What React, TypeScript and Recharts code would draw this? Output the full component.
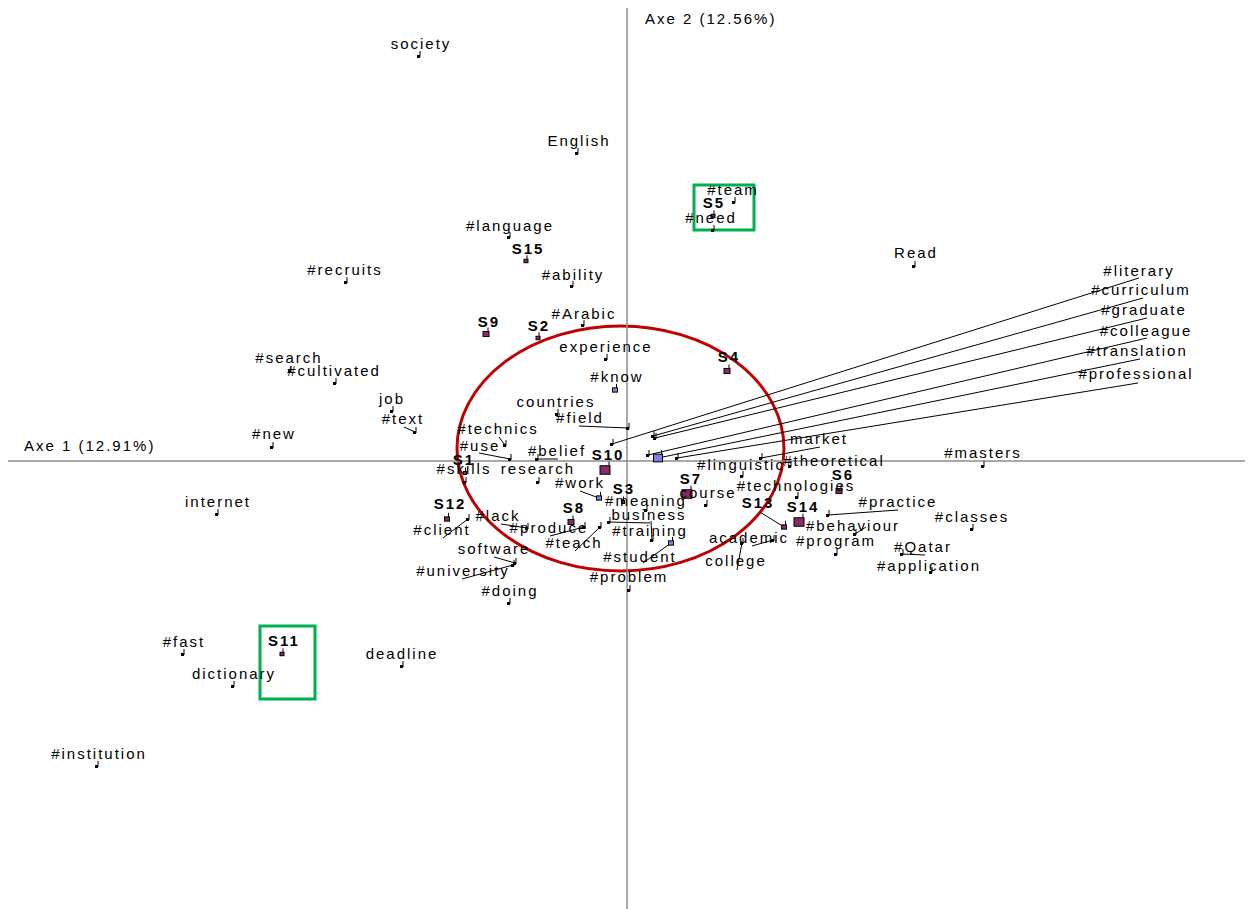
import { ScatterChart, Scatter, XAxis, YAxis, ReferenceLine, ReferenceArea } from "recharts";

// factorial map, axis 1 / axis 2 coordinates (x, y) and label anchor (lx, ly)
const termPoints = [
  { name: "society", x: -2.08, y: 4.05, lx: -2.07, ly: 4.17 },
  { name: "English", x: -0.5, y: 3.08, lx: -0.49, ly: 3.2 },
  { name: "#language", x: -1.18, y: 2.24, lx: -1.18, ly: 2.35 },
  { name: "#recruits", x: -2.81, y: 1.79, lx: -2.83, ly: 1.91 },
  { name: "#ability", x: -0.55, y: 1.75, lx: -0.55, ly: 1.86 },
  { name: "#Arabic", x: -0.44, y: 1.36, lx: -0.44, ly: 1.47 },
  { name: "#team", x: 1.07, y: 2.59, lx: 1.05, ly: 2.71 },
  { name: "#need", x: 0.86, y: 2.31, lx: 0.83, ly: 2.43 },
  { name: "Read", x: 2.87, y: 1.95, lx: 2.88, ly: 2.08 },
  { name: "#search", x: -3.37, y: 0.9, lx: -3.39, ly: 1.03 },
  { name: "#cultivated", x: -2.92, y: 0.78, lx: -2.94, ly: 0.9 },
  { name: "job", x: -2.35, y: 0.5, lx: -2.36, ly: 0.62 },
  { name: "#text", x: -2.12, y: 0.29, lx: -2.25, ly: 0.42 },
  { name: "#new", x: -3.55, y: 0.14, lx: -3.54, ly: 0.27 },
  { name: "experience", x: -0.21, y: 1.02, lx: -0.22, ly: 1.14 },
  { name: "countries", x: -0.7, y: 0.47, lx: -0.72, ly: 0.59 },
  { name: "#field", x: 0.01, y: 0.33, lx: -0.48, ly: 0.43 },
  { name: "#technics", x: -1.22, y: 0.16, lx: -1.3, ly: 0.32 },
  { name: "#use", x: -1.17, y: 0.02, lx: -1.48, ly: 0.15 },
  { name: "#belief", x: -0.9, y: 0.02, lx: -0.71, ly: 0.1 },
  { name: "#skills", x: -1.62, y: -0.21, lx: -1.64, ly: -0.08 },
  { name: "research", x: -0.89, y: -0.21, lx: -0.9, ly: -0.08 },
  { name: "#meaning", x: 0.19, y: -0.49, lx: 0.18, ly: -0.4 },
  { name: "business", x: -0.18, y: -0.61, lx: 0.21, ly: -0.54 },
  { name: "#training", x: 0.25, y: -0.79, lx: 0.22, ly: -0.7 },
  { name: "#problem", x: 0.02, y: -1.29, lx: 0.01, ly: -1.16 },
  { name: "#teach", x: -0.27, y: -0.66, lx: -0.54, ly: -0.82 },
  { name: "#produce", x: -0.43, y: -0.66, lx: -0.79, ly: -0.67 },
  { name: "#lack", x: -1.0, y: -0.67, lx: -1.3, ly: -0.55 },
  { name: "#client", x: -1.59, y: -0.58, lx: -1.86, ly: -0.69 },
  { name: "software", x: -1.12, y: -1.02, lx: -1.34, ly: -0.88 },
  { name: "#university", x: -1.14, y: -1.04, lx: -1.65, ly: -1.1 },
  { name: "#doing", x: -1.18, y: -1.42, lx: -1.18, ly: -1.3 },
  { name: "course", x: 0.79, y: -0.44, lx: 0.8, ly: -0.32 },
  { name: "market", x: 1.34, y: 0.03, lx: 1.91, ly: 0.22 },
  { name: "#theoretical", x: 1.63, y: -0.05, lx: 2.06, ly: 0.0 },
  { name: "#linguistic", x: 1.15, y: -0.15, lx: 1.13, ly: -0.04 },
  { name: "#technologies", x: 1.7, y: -0.36, lx: 1.68, ly: -0.25 },
  { name: "#practice", x: 2.01, y: -0.54, lx: 2.7, ly: -0.41 },
  { name: "#behaviour", x: 2.28, y: -0.73, lx: 2.25, ly: -0.65 },
  { name: "#program", x: 2.09, y: -0.93, lx: 2.08, ly: -0.8 },
  { name: "academic", x: 1.46, y: -0.79, lx: 1.21, ly: -0.77 },
  { name: "college", x: 1.15, y: -0.82, lx: 1.08, ly: -1.0 },
  { name: "#Qatar", x: 2.75, y: -0.93, lx: 2.95, ly: -0.86 },
  { name: "#application", x: 3.04, y: -1.11, lx: 3.01, ly: -1.05 },
  { name: "#classes", x: 3.45, y: -0.68, lx: 3.44, ly: -0.56 },
  { name: "#masters", x: 3.56, y: -0.05, lx: 3.55, ly: 0.08 },
  { name: "internet", x: -4.1, y: -0.53, lx: -4.1, ly: -0.41 },
  { name: "#fast", x: -4.44, y: -1.93, lx: -4.44, ly: -1.81 },
  { name: "dictionary", x: -3.94, y: -2.25, lx: -3.94, ly: -2.13 },
  { name: "deadline", x: -2.25, y: -2.05, lx: -2.26, ly: -1.93 },
  { name: "#institution", x: -5.3, y: -3.05, lx: -5.29, ly: -2.93 },
  { name: "#literary", x: -0.15, y: 0.17, lx: 5.11, ly: 1.9 },
  { name: "#curriculum", x: 0.26, y: 0.25, lx: 5.13, ly: 1.71 },
  { name: "#graduate", x: 0.28, y: 0.23, lx: 5.16, ly: 1.51 },
  { name: "#colleague", x: 0.21, y: 0.06, lx: 5.18, ly: 1.3 },
  { name: "#professional", x: 0.5, y: 0.03, lx: 5.08, ly: 0.87 },
];

// words shown with a blue square, w = marker size
const bluePoints = [
  { name: "#know", x: -0.12, y: 0.71, lx: -0.11, ly: 0.84, w: 5 },
  { name: "#work", x: -0.28, y: -0.37, lx: -0.48, ly: -0.22, w: 5 },
  { name: "#student", x: 0.44, y: -0.82, lx: 0.12, ly: -0.96, w: 5 },
  { name: "#translation", x: 0.31, y: 0.03, lx: 5.09, ly: 1.1, w: 9 },
];

// subjects (supplementary individuals)
const subjectPoints = [
  { name: "S15", x: -1.01, y: 2.0, lx: -1.0, ly: 2.12, w: 4 },
  { name: "S5", x: 0.86, y: 2.45, lx: 0.86, ly: 2.58, w: 4 },
  { name: "S9", x: -1.41, y: 1.27, lx: -1.39, ly: 1.39, w: 6 },
  { name: "S2", x: -0.89, y: 1.23, lx: -0.89, ly: 1.35, w: 4 },
  { name: "S4", x: 1.0, y: 0.9, lx: 1.01, ly: 1.04, w: 6 },
  { name: "S10", x: -0.22, y: -0.09, lx: -0.2, ly: 0.06, w: 10 },
  { name: "S1", x: -1.62, y: -0.12, lx: -1.64, ly: 0.01, w: 3 },
  { name: "S3", x: -0.04, y: -0.41, lx: -0.04, ly: -0.28, w: 3 },
  { name: "S12", x: -1.8, y: -0.58, lx: -1.78, ly: -0.43, w: 5 },
  { name: "S8", x: -0.56, y: -0.61, lx: -0.54, ly: -0.47, w: 6 },
  { name: "S7", x: 0.6, y: -0.33, lx: 0.63, ly: -0.18, w: 10 },
  { name: "S6", x: 2.12, y: -0.3, lx: 2.15, ly: -0.14, w: 6 },
  { name: "S13", x: 1.57, y: -0.66, lx: 1.3, ly: -0.42, w: 5 },
  { name: "S14", x: 1.72, y: -0.61, lx: 1.75, ly: -0.46, w: 10 },
  { name: "S11", x: -3.45, y: -1.93, lx: -3.44, ly: -1.8, w: 4 },
];

// leader line end for labels pushed away from their point
const leaderEnds: [string, number, number][] = [
  ["#text", -2.23, 0.34],
  ["#field", -0.48, 0.35],
  ["#technics", -1.28, 0.24],
  ["#use", -1.48, 0.08],
  ["#belief", -0.69, 0.02],
  ["#work", -0.47, -0.3],
  ["business", 0.23, -0.62],
  ["#training", 0.24, -0.6],
  ["#student", 0.16, -1.02],
  ["#teach", -0.52, -0.9],
  ["#produce", -0.77, -0.75],
  ["#lack", -1.26, -0.63],
  ["#client", -1.84, -0.77],
  ["software", -1.33, -0.96],
  ["#university", -1.65, -1.18],
  ["market", 1.93, 0.14],
  ["#practice", 2.71, -0.49],
  ["#behaviour", 2.39, -0.66],
  ["academic", 1.25, -0.85],
  ["college", 1.1, -1.09],
  ["#Qatar", 2.98, -0.94],
  ["S13", 1.33, -0.51],
  ["#literary", 5.12, 1.83],
  ["#curriculum", 5.16, 1.63],
  ["#graduate", 5.2, 1.43],
  ["#colleague", 5.2, 1.23],
  ["#translation", 5.13, 1.02],
  ["#professional", 5.11, 0.78],
];

const axisTitles = [
  { name: "Axe 1 (12.91%)", lx: -6.03, ly: 0.15 },
  { name: "Axe 2 (12.56%)", lx: 0.18, ly: 4.42 },
];

// highlighted zones
const ellipseZone = { x1: -1.7, x2: 1.57, y1: -1.1, y2: 1.35 };
const boxZones = [
  { x1: 0.67, x2: 1.27, y1: 2.31, y2: 2.76 },
  { x1: -3.67, x2: -3.12, y1: -2.38, y2: -1.65 },
];

const FONT = "'Liberation Sans', Arial, Helvetica, sans-serif";
const SPACING = 2;
const PURPLE = "#8b2a66";
const BLUE = "#7d82e6";

const allPoints = [...termPoints, ...bluePoints, ...subjectPoints];
const pointByName: Record<string, { x: number; y: number }> = {};
allPoints.forEach((p) => (pointByName[p.name] = p));

const labelData = [
  ...termPoints.map((p) => ({ x: p.lx, y: p.ly, name: p.name, bold: false, start: false })),
  ...bluePoints.map((p) => ({ x: p.lx, y: p.ly, name: p.name, bold: false, start: false })),
  ...subjectPoints.map((p) => ({ x: p.lx, y: p.ly, name: p.name, bold: true, start: false })),
  ...axisTitles.map((p) => ({ x: p.lx, y: p.ly, name: p.name, bold: false, start: true })),
];

const TermMark = (props: any) => {
  const { cx, cy } = props;
  return (
    <g>
      <rect x={cx - 2} y={cy - 1} width={3} height={3} fill="#000" />
      <line x1={cx + 1} y1={cy + 1} x2={cx + 1} y2={cy - 5} stroke="#000" strokeWidth={1} />
    </g>
  );
};

const squareMark = (fill: string) => (props: any) => {
  const { cx, cy, payload } = props;
  const w = payload.w;
  const h = Math.max(3, w * 0.85);
  return (
    <g>
      <rect x={cx - w / 2} y={cy - h / 2} width={w} height={h} fill={fill} stroke="#000" strokeWidth={1} />
      <line x1={cx + w / 2 - 1} y1={cy - h / 2} x2={cx + w / 2 - 1} y2={cy - h / 2 - 4} stroke="#000" strokeWidth={1} />
    </g>
  );
};

const LabelText = (props: any) => {
  const { cx, cy, payload } = props;
  return (
    <text
      x={payload.start ? cx : cx + SPACING / 2}
      y={cy + 5}
      textAnchor={payload.start ? "start" : "middle"}
      fontFamily={FONT}
      fontSize={15}
      fontWeight={payload.bold ? 700 : 400}
      fill="#000"
      style={{ letterSpacing: SPACING }}
    >
      {payload.name}
    </text>
  );
};

export default function App() {
  return (
    <div style={{ width: 1245, height: 901, background: "#fff" }}>
      <ScatterChart width={1245} height={901} margin={{ top: 0, right: 0, bottom: 0, left: 0 }}>
        <XAxis type="number" dataKey="x" domain={[-6.19, 6.26]} allowDataOverflow hide />
        <YAxis type="number" dataKey="y" domain={[-4.48, 4.53]} allowDataOverflow hide />
        <ReferenceLine x={0} stroke="#8c8c8c" strokeWidth={1.5} />
        <ReferenceLine y={0} stroke="#8c8c8c" strokeWidth={1.5} />
        {leaderEnds.map(([name, ex, ey]) => {
          const p = pointByName[name];
          return (
            <ReferenceLine
              key={"l" + name}
              segment={[
                { x: p.x, y: p.y },
                { x: ex, y: ey },
              ]}
              stroke="#000"
              strokeWidth={1}
            />
          );
        })}
        <ReferenceArea
          x1={ellipseZone.x1}
          x2={ellipseZone.x2}
          y1={ellipseZone.y1}
          y2={ellipseZone.y2}
          shape={(p: any) => (
            <ellipse
              cx={p.x + p.width / 2}
              cy={p.y + p.height / 2}
              rx={Math.abs(p.width) / 2}
              ry={Math.abs(p.height) / 2}
              fill="none"
              stroke="#c00000"
              strokeWidth={3}
            />
          )}
        />
        {boxZones.map((b, i) => (
          <ReferenceArea
            key={"b" + i}
            x1={b.x1}
            x2={b.x2}
            y1={b.y1}
            y2={b.y2}
            fill="none"
            fillOpacity={0}
            stroke="#00b050"
            strokeWidth={3}
          />
        ))}
        <Scatter data={termPoints} shape={TermMark} isAnimationActive={false} />
        <Scatter data={bluePoints} shape={squareMark(BLUE)} isAnimationActive={false} />
        <Scatter data={subjectPoints} shape={squareMark(PURPLE)} isAnimationActive={false} />
        <Scatter data={labelData} shape={LabelText} isAnimationActive={false} />
      </ScatterChart>
    </div>
  );
}
